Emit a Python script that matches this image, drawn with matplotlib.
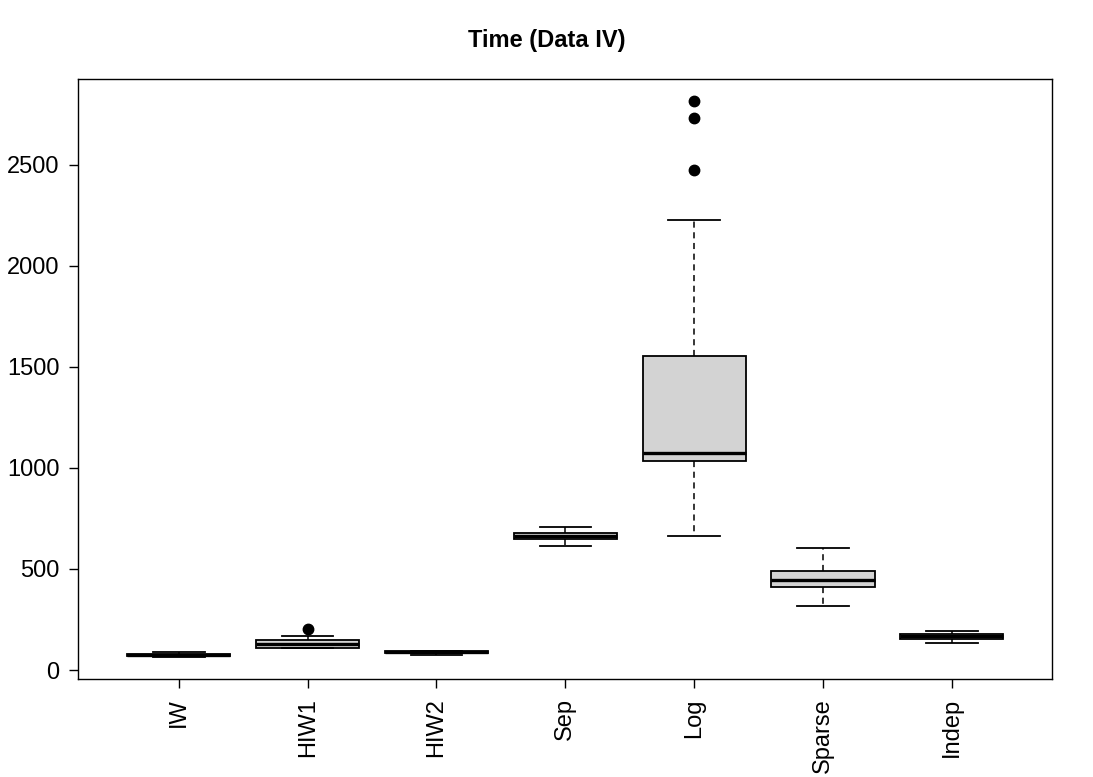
import numpy as np
import matplotlib
matplotlib.use('Agg')
import matplotlib.pyplot as plt

plt.rcParams['font.family'] = ['Liberation Sans', 'DejaVu Sans']

# box statistics
methods = ['IW', 'HIW1', 'HIW2', 'Sep', 'Log', 'Sparse', 'Indep']
whis_lo = [65, 107, 73, 612, 662, 315, 132]
q1 = [68, 110, 83, 647, 1033, 409, 155]
med = [72, 130, 87, 662, 1073, 444, 167]
q3 = [77, 147, 93, 677, 1554, 490, 178]
whis_hi = [89, 167, 96, 706, 2226, 602, 192]
outliers = [[], [203], [], [], [2475, 2731, 2818], [], []]

stats = []
for i in range(len(methods)):
    stats.append({'label': methods[i], 'whislo': whis_lo[i], 'q1': q1[i], 'med': med[i],
                  'q3': q3[i], 'whishi': whis_hi[i], 'fliers': outliers[i]})

fig = plt.figure(figsize=(10.93, 7.77), dpi=100)
ax = fig.add_axes([78.3/1093, 1-679.3/777, (1052.3-78.3)/1093, (679.3-78.7)/777])

ax.bxp(stats, positions=np.arange(1, len(methods)+1), widths=0.8, capwidths=0.4,
       patch_artist=True,
       boxprops=dict(facecolor='#D3D3D3', edgecolor='black', linewidth=1.3),
       medianprops=dict(color='black', linewidth=2.4, solid_capstyle='butt'),
       whiskerprops=dict(color='black', linewidth=1.1, linestyle=(0, (4, 3))),
       capprops=dict(color='black', linewidth=1.3),
       flierprops=dict(marker='o', markerfacecolor='black', markeredgecolor='black', markersize=7.5))

ax.set_xlim(0.22, 7.78)
ax.set_ylim(-46, 2927)
ax.set_yticks([0, 500, 1000, 1500, 2000, 2500])
ax.set_xticks(np.arange(1, len(methods)+1))
ax.set_xticklabels(methods, rotation=90)
ax.tick_params(axis='both', labelsize=17, length=6.5, width=1, pad=7)
for s in ax.spines.values():
    s.set_linewidth(1)

fig.text(0.5, 1-40/777, 'Time (Data IV)', ha='center', va='center', fontsize=17, fontweight='bold')

plt.savefig('out.png', dpi=100)
